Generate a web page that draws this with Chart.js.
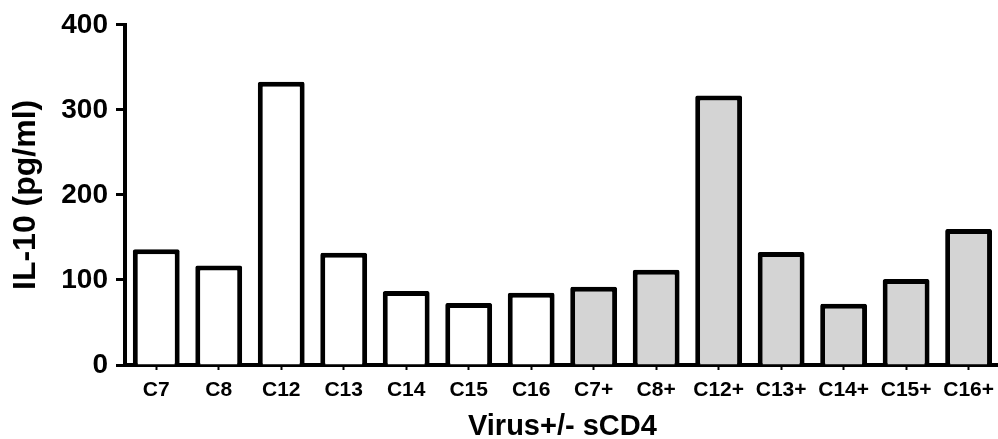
<!DOCTYPE html>
<html>
<head>
<meta charset="utf-8">
<script src="https://cdn.jsdelivr.net/npm/chart.js@4"></script>
<style>
  html, body { margin: 0; padding: 0; background: #ffffff; overflow: hidden; }
  #wrap { width: 1002px; height: 439px; }
</style>
</head>
<body>
<div id="wrap"><canvas id="chart" width="1002" height="439"></canvas></div>
<script>
// Virus samples without / with soluble CD4
const categories = ['C7', 'C8', 'C12', 'C13', 'C14', 'C15', 'C16',
                    'C7+', 'C8+', 'C12+', 'C13+', 'C14+', 'C15+', 'C16+'];
// IL-10 concentration (pg/ml)
const il10Values = [136, 117, 333, 132, 87, 73, 85,
                    92, 112, 317, 133, 72, 101, 160];
// Fill per bar: white for virus alone, grey for virus + sCD4
const barFills = ['#ffffff', '#ffffff', '#ffffff', '#ffffff', '#ffffff', '#ffffff', '#ffffff',
                  '#d4d4d4', '#d4d4d4', '#d4d4d4', '#d4d4d4', '#d4d4d4', '#d4d4d4', '#d4d4d4'];
const yTicks = [0, 100, 200, 300, 400];

const FONT = "'Liberation Sans', Arial, Helvetica, sans-serif";

new Chart(document.getElementById('chart'), {
  type: 'bar',
  data: {
    labels: categories,
    datasets: [{
      data: il10Values,
      backgroundColor: barFills,
      borderColor: '#000000',
      borderWidth: 5,
      borderRadius: 2,
      borderSkipped: 'start',
      barPercentage: 0.75,
      categoryPercentage: 1.0
    }]
  },
  options: {
    responsive: false,
    devicePixelRatio: 1,
    animation: false,
    events: [],
    layout: { padding: { top: 24, right: 0, bottom: 0, left: 0 } },
    plugins: { legend: { display: false }, tooltip: { enabled: false } },
    scales: {
      x: {
        z: 1,
        offset: true,
        grid: {
          display: true,
          drawOnChartArea: false,
          drawTicks: true,
          offset: false,
          tickLength: 5,
          tickWidth: 2,
          tickColor: '#000000'
        },
        border: { display: true, color: '#000000', width: 4 },
        ticks: {
          color: '#000000',
          padding: 8,
          maxRotation: 0,
          autoSkip: false,
          font: { family: FONT, size: 21, weight: 'bold' }
        },
        title: {
          display: true,
          text: 'Virus+/- sCD4',
          color: '#000000',
          padding: { top: 0, bottom: -2 },
          font: { family: FONT, size: 29, weight: 'bold', lineHeight: 1 }
        },
        afterFit(scale) { scale.height = 74; }
      },
      y: {
        z: 1,
        min: 0,
        max: 400,
        afterBuildTicks(scale) { scale.ticks = yTicks.map(v => ({ value: v })); },
        grid: {
          display: true,
          drawOnChartArea: false,
          drawTicks: true,
          tickLength: 9,
          tickWidth: 3,
          tickColor: '#000000'
        },
        border: { display: true, color: '#000000', width: 4 },
        ticks: {
          color: '#000000',
          padding: 8,
          font: { family: FONT, size: 28, weight: 'bold' }
        },
        title: {
          display: true,
          text: 'IL-10 (pg/ml)',
          color: '#000000',
          padding: { top: 10, bottom: 0 },
          font: { family: FONT, size: 32, weight: 'bold', lineHeight: 1 }
        },
        afterFit(scale) { scale.width = 125; }
      }
    }
  }
});
</script>
</body>
</html>
